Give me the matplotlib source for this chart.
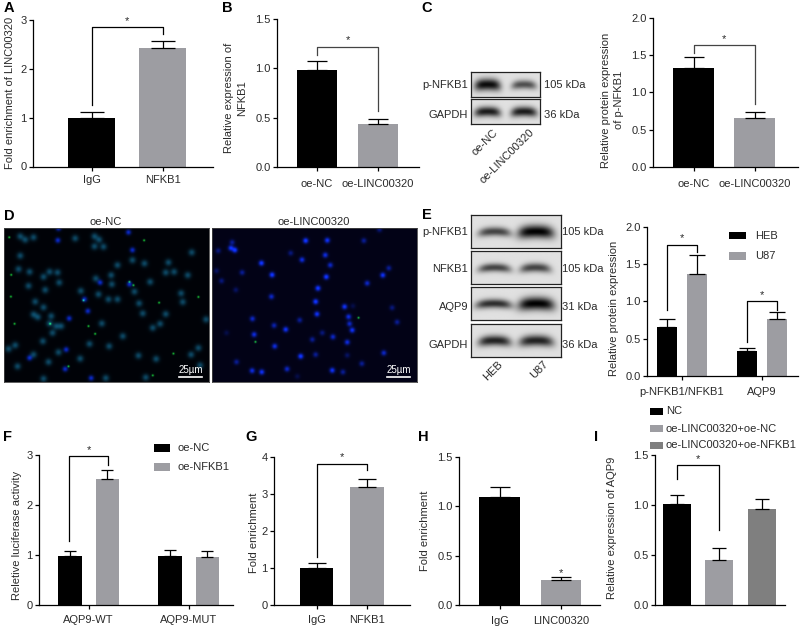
#Imports
import numpy as np
import matplotlib
matplotlib.use('Agg')
import matplotlib.pyplot as plt
from matplotlib.patches import Rectangle

plt.rcParams['font.family'] = ['Liberation Sans', 'DejaVu Sans']
plt.rcParams['font.size'] = 8
plt.rcParams['text.color'] = '#2a2a2a'
plt.rcParams['axes.labelcolor'] = '#2a2a2a'
plt.rcParams['xtick.labelcolor'] = '#2a2a2a'
plt.rcParams['ytick.labelcolor'] = '#2a2a2a'

#Data

a_names = ['IgG', 'NFKB1']
a_values = [1.0, 2.43]
a_errors = [0.11, 0.14]

b_names = ['oe-NC', 'oe-LINC00320']
b_values = [0.98, 0.43]
b_errors = [0.10, 0.06]

c_names = ['oe-NC', 'oe-LINC00320']
c_values = [1.33, 0.66]
c_errors = [0.15, 0.08]

e_names = ['p-NFKB1/NFKB1', 'AQP9']
e_heb = [0.66, 0.33]
e_heb_err = [0.11, 0.05]
e_u87 = [1.36, 0.77]
e_u87_err = [0.26, 0.09]

f_names = ['AQP9-WT', 'AQP9-MUT']
f_nc = [0.98, 0.98]
f_nc_err = [0.10, 0.11]
f_nfkb1 = [2.53, 0.95]
f_nfkb1_err = [0.18, 0.12]

g_names = ['IgG', 'NFKB1']
g_values = [1.0, 3.2]
g_errors = [0.13, 0.22]

h_names = ['IgG', 'LINC00320']
h_values = [1.1, 0.25]
h_errors = [0.10, 0.03]

i_names = ['NC', 'oe-LINC00320+oe-NC', 'oe-LINC00320+oe-NFKB1']
i_values = [1.01, 0.45, 0.96]
i_errors = [0.09, 0.12, 0.10]

# fluorescence spots in panel D (zoomed picture coordinates)
d_left_teal = [(75,122),(100,115),(283,112),(297,122),(310,143),(283,142),(55,210),(88,218),(148,218),
               (172,220),(130,233),(177,250),(85,260),(135,272),(242,275),(287,238),(333,228),(352,198),
               (433,193),(397,183),(505,190),(497,220),(522,218),(563,228),(335,255),(403,277),(450,248),
               (295,285),(325,300),(352,300),(105,307),(130,324),(100,345),(113,353),(153,350),(417,312),
               (428,342),(497,344),(543,282),(548,308),(618,360),(148,372),(168,380),(183,380),(157,400),
               (128,425),(45,437),(25,448),(175,458),(268,433),(327,440),(368,410),(100,465),(240,477),
               (415,468),(468,478),(480,373),(458,385),(305,372),(595,445),(573,465),(52,500),(145,487),
               (130,537),(437,533),(600,497),(317,535),(60,112),(225,118),(575,160),(60,170)]
d_left_blue = [(173,124),(385,100),(397,153),(300,250),(388,255),(253,300),(207,357),(263,335),(198,450),
               (88,475),(195,508),(273,535),(175,88)]
d_left_green = [(27,115),(432,124),(33,227),(32,292),(43,373),(477,310),(595,293),(150,373),(388,248),
                (265,380),(285,403),(520,462),(458,527),(400,258),(205,500),(250,303)]
d_right_blue = [(693,147,.9),(705,153,1),(697,130,.5),(655,155,.4),(918,125,1),(983,124,.9),(1093,125,.5),
                (1140,92,.4),(785,192,1),(907,182,.8),(977,168,.8),(992,198,.7),(873,162,.4),(727,220,.5),
                (650,215,.3),(817,227,1),(980,233,1),(1150,228,.9),(1168,207,.5),(665,245,.4),(955,267,1),
                (1103,252,.7),(708,272,.3),(815,292,.7),(948,307,1),(1035,322,.9),(1060,320,.2),(1178,325,.4),
                (952,344,.9),(1047,352,.8),(758,358,.7),(900,362,.5),(1050,373,.7),(1058,392,.9),(823,378,.6),
                (858,390,.9),(1193,368,.5),(763,405,.8),(1000,412,.7),(938,420,.5),(1043,428,.8),(825,440,.8),
                (903,470,1),(948,465,.5),(1153,460,.7),(1043,467,.3),(710,487,.5),(757,513,.8),(786,517,.9),
                (862,508,.7),(998,512,.9),(1030,517,.5),(1087,492,.5),(893,530,.2),(968,400,.4),(680,400,.2)]

# blot bands: centre, half width, darkness, half height
blot_c = {'p-NFKB1': [(.24,.19,.95,.24),(.77,.18,.65,.18)],
          'GAPDH': [(.24,.19,.88,.2),(.77,.19,.88,.2)]}
blot_e = {'p-NFKB1': [(.26,.18,.7,.14),(.715,.2,1.0,.2)],
          'NFKB1': [(.26,.18,.7,.13),(.71,.17,.7,.14)],
          'AQP9': [(.25,.2,.8,.14),(.72,.2,1.0,.2)],
          'GAPDH': [(.26,.18,.85,.16),(.72,.19,.85,.17)]}

BLACK = '#000000'
GREY = '#9d9da2'
DARK = '#7f7f7f'
W, H = 800, 628

fig = plt.figure(figsize=(W / 100, H / 100), dpi=100)


# everything is placed in picture pixels
def new_axes(left, right, bottom, top):
    return fig.add_axes([left / W, 1 - bottom / H, (right - left) / W, (bottom - top) / H])


def label(x, y, s, **kw):
    kw.setdefault('ha', 'center')
    kw.setdefault('va', 'center')
    fig.text(x / W, 1 - y / H, s, **kw)


def bar_panel(rect, x0, step, ylim, yticks, ylab_x, ylab_y, ylabel, fmt='%.1f', xpad=4):
    ax = new_axes(*rect)
    ax.set_xlim((rect[0] - x0) / step, (rect[1] - x0) / step)
    ax.set_ylim(*ylim)
    ax.spines['top'].set_visible(False)
    ax.spines['right'].set_visible(False)
    ax.spines['left'].set_linewidth(0.9)
    ax.spines['bottom'].set_linewidth(0.9)
    ax.set_yticks(yticks)
    ax.set_yticklabels([fmt % t for t in yticks])
    ax.tick_params(length=3.2, width=0.9, pad=1.5)
    ax.tick_params(axis='x', pad=xpad)
    ax.patch.set_alpha(0)
    label(ylab_x, ylab_y, ylabel, rotation=90, linespacing=1.4)
    return ax


def bars(ax, xs, values, errors, width, colors, cap):
    ax.bar(xs, values, width=width, color=colors, linewidth=0)
    for x, v, e in zip(xs, values, errors):
        ax.errorbar([x], [v], yerr=[[0], [e]], color='black', elinewidth=0.9,
                    capsize=cap, capthick=0.9, clip_on=False)


def bracket(ax, x1, x2, top, b1, b2, color='black'):
    ax.plot([x1, x1, x2, x2], [b1, top, top, b2], color=color, linewidth=0.9, clip_on=False)
    ax.annotate('*', ((x1 + x2) / 2, top), xytext=(0, 1), textcoords='offset points',
                ha='center', va='bottom', fontsize=8, annotation_clip=False)


def blot(rect, bands):
    ax = new_axes(*rect)
    xx, yy = np.meshgrid(np.linspace(0, 1, 180), np.linspace(0, 1, 60))
    img = np.full(xx.shape, 0.88)
    for cx, hw, dark, hh in bands:
        # bands bow slightly, like on a real membrane
        cy = 0.5 + 0.06 * ((xx - cx) / hw) ** 2
        blob = np.exp(-((xx - cx) / hw) ** 4) * np.exp(-((yy - cy) / hh) ** 2)
        img = img - dark * 0.88 * blob
    ax.imshow(np.clip(img, 0, 1), cmap='gray', vmin=0, vmax=1, aspect='auto',
              extent=[0, 1, 1, 0], interpolation='bilinear')
    ax.set_xticks([])
    ax.set_yticks([])
    for s in ax.spines.values():
        s.set_linewidth(0.9)
        s.set_color('#222222')


def fluor(rect, x_range, y_range, teal, blue, green, bg):
    ax = new_axes(*rect)
    nx, ny = 410, 308
    xx, yy = np.meshgrid(np.linspace(x_range[0], x_range[1], nx), np.linspace(y_range[0], y_range[1], ny))
    img = np.zeros((ny, nx, 3))
    img[:, :] = bg
    for x, y in teal:
        g = np.exp(-((xx - x) ** 2 + (yy - y) ** 2) / (2 * 7.0 ** 2))
        img[:, :, 0] += 0.05 * g
        img[:, :, 1] += 0.27 * g
        img[:, :, 2] += 0.36 * g
    for x, y, b in blue:
        g = np.exp(-((xx - x) ** 2 + (yy - y) ** 2) / (2 * 5.5 ** 2))
        img[:, :, 0] += 0.05 * b * g
        img[:, :, 1] += 0.2 * b * g
        img[:, :, 2] += 1.0 * b * g
    for x, y in green:
        g = np.exp(-((xx - x) ** 2 + (yy - y) ** 2) / (2 * 2.2 ** 2))
        img[:, :, 0] += 0.1 * g
        img[:, :, 1] += 0.8 * g
        img[:, :, 2] += 0.2 * g
    ax.imshow(np.clip(img, 0, 1), aspect='auto', extent=[x_range[0], x_range[1], y_range[1], y_range[0]])
    ax.set_xticks([])
    ax.set_yticks([])
    for s in ax.spines.values():
        s.set_linewidth(0.6)
        s.set_color('#444444')
    # scale bar
    right = x_range[1] - 21
    ax.plot([right - 68, right], [y_range[1] - 15, y_range[1] - 15], color='white', linewidth=1.2)
    ax.text(right - 34, y_range[1] - 20, '25µm', color='white', ha='center', va='bottom', fontsize=7)
    ax.set_xlim(*x_range)
    ax.set_ylim(y_range[1], y_range[0])


# A
ax = bar_panel((33, 213, 166.5, 20), 91.5, 71, (0, 3), [0, 1, 2, 3], 10, 93,
               'Fold enrichment of LINC00320', fmt='%d', xpad=3)
bars(ax, [0, 1], a_values, a_errors, 0.66, [BLACK, GREY], 8.6)
ax.set_xticks([0, 1])
ax.set_xticklabels(a_names)
bracket(ax, 0, 1, 2.85, 1.25, 2.72)

# B
ax = bar_panel((277, 419, 166.7, 19.3), 317, 61, (0, 1.5), [0, 0.5, 1.0, 1.5], 236, 98,
               'Relative expression of\nNFKB1', xpad=5.5)
bars(ax, [0, 1], b_values, b_errors, 0.66, [BLACK, GREY], 7.2)
ax.set_xticks([0, 1])
ax.set_xticklabels(b_names)
bracket(ax, 0, 1, 1.22, 1.135, 0.57, color='#444444')

# C blot
blot((471, 540, 97, 72), blot_c['p-NFKB1'])
blot((471, 540, 124, 99), blot_c['GAPDH'])
label(468, 85, 'p-NFKB1', ha='right')
label(468, 115, 'GAPDH', ha='right')
label(544, 85, '105 kDa', ha='left')
label(544, 115, '36 kDa', ha='left')
label(493, 127, 'oe-NC', rotation=45, ha='right', va='top', rotation_mode='anchor')
label(529, 127, 'oe-LINC00320', rotation=45, ha='right', va='top', rotation_mode='anchor')

# C chart
ax = bar_panel((653, 798, 167, 17.7), 693.5, 61, (0, 2), [0, 0.5, 1.0, 1.5, 2.0], 612.5, 100,
               'Relative protein expression\nof p-NFKB1', xpad=5.5)
bars(ax, [0, 1], c_values, c_errors, 0.66, [BLACK, GREY], 7.2)
ax.set_xticks([0, 1])
ax.set_xticklabels(c_names)
bracket(ax, 0, 1, 1.63, 1.53, 0.85, color='#444444')

# D
fluor((4, 209, 382, 228), (12, 626), (85, 546), d_left_teal,
      [(x, y, 0.75) for x, y in d_left_blue], d_left_green, (0, 0.01, 0.03))
fluor((212, 417, 382, 228), (637, 1252), (85, 546), [], d_right_blue, [(1077, 355), (767, 427)], (0.01, 0.01, 0.09))
label(106, 222, 'oe-NC')
label(314, 222, 'oe-LINC00320')

# E blot
blot((470.7, 560.7, 247.7, 215), blot_e['p-NFKB1'])
blot((470.7, 560.7, 284, 251), blot_e['NFKB1'])
blot((470.7, 560.7, 320, 287.3), blot_e['AQP9'])
blot((470.7, 560.7, 356.7, 324), blot_e['GAPDH'])
for name, kda, y in [('p-NFKB1', '105 kDa', 231.7), ('NFKB1', '105 kDa', 269), ('AQP9', '31 kDa', 307), ('GAPDH', '36 kDa', 345)]:
    label(468, y, name, ha='right')
    label(562, y, kda, ha='left')
label(498, 359, 'HEB', rotation=45, ha='right', va='top', rotation_mode='anchor')
label(543, 359, 'U87', rotation=45, ha='right', va='top', rotation_mode='anchor')

# E chart
ax = bar_panel((647.3, 798, 376, 226.7), 682, 80, (0, 2), [0, 0.5, 1.0, 1.5, 2.0], 614, 308,
               'Relative protein expression', xpad=4.5)
xs = np.array([0, 1])
bars(ax, xs - 0.1875, e_heb, e_heb_err, 0.25, BLACK, 5.5)
bars(ax, xs + 0.1875, e_u87, e_u87_err, 0.25, GREY, 5.5)
ax.set_xticks([0, 1])
ax.set_xticklabels(e_names)
bracket(ax, -0.1875, 0.1875, 1.76, 0.88, 1.66)
bracket(ax, 0.8125, 1.1875, 1.0, 0.46, 0.88)
fig.add_artist(Rectangle((729 / W, 1 - 239 / H), 17 / W, 7.5 / H, color=BLACK, linewidth=0))
fig.add_artist(Rectangle((729 / W, 1 - 260 / H), 17 / W, 8 / H, color=GREY, linewidth=0))
label(755, 236, 'HEB', ha='left')
label(755, 256, 'U87', ha='left')

# F
ax = bar_panel((39, 233, 604.7, 455.3), 88.7, 100, (0, 3), [0, 1, 2, 3], 17, 535,
               'Reletive luciferase activity', fmt='%d', xpad=4.5)
bars(ax, xs - 0.187, f_nc, f_nc_err, 0.233, BLACK, 4.6)
bars(ax, xs + 0.187, f_nfkb1, f_nfkb1_err, 0.233, GREY, 4.6)
ax.set_xticks([0, 1])
ax.set_xticklabels(f_names)
bracket(ax, -0.197, 0.193, 2.98, 1.27, 2.8)
fig.add_artist(Rectangle((153.7 / W, 1 - 452 / H), 16.3 / W, 8 / H, color=BLACK, linewidth=0))
fig.add_artist(Rectangle((153.7 / W, 1 - 470.7 / H), 16.3 / W, 8 / H, color=GREY, linewidth=0))
label(178, 448, 'oe-NC', ha='left')
label(178, 466.5, 'oe-NFKB1', ha='left')

# G
ax = bar_panel((274, 410, 604.7, 457.3), 316.5, 50.5, (0, 4), [0, 1, 2, 3, 4], 254, 533,
               'Fold enrichment', fmt='%d', xpad=4.5)
bars(ax, [0, 1], g_values, g_errors, 0.66, [BLACK, GREY], 6.2)
ax.set_xticks([0, 1])
ax.set_xticklabels(g_names)
bracket(ax, 0, 1, 3.83, 1.30, 3.65)

# H
ax = bar_panel((459.3, 600, 604.7, 457.3), 499.5, 61.5, (0, 1.5), [0, 0.5, 1.0, 1.5], 425, 531,
               'Fold enrichment', xpad=5)
bars(ax, [0, 1], h_values, h_errors, 0.66, [BLACK, GREY], 7.2)
ax.set_xticks([0, 1])
ax.set_xticklabels(h_names)
ax.annotate('*', (1, h_values[1] + h_errors[1]), xytext=(0, -1), textcoords='offset points',
            ha='center', va='bottom', fontsize=8)

# I
ax = bar_panel((655, 785, 604.7, 455.3), 676.7, 42.7, (0, 1.5), [0, 0.5, 1.0, 1.5], 612, 528,
               'Relative expression of AQP9')
bars(ax, [0, 1, 2], i_values, i_errors, 0.656, [BLACK, GREY, DARK], 5.0)
ax.set_xticks([])
bracket(ax, 0, 1, 1.40, 1.26, 0.75)
for name, color, y in zip(i_names, [BLACK, GREY, DARK], [411.5, 428.5, 445.5]):
    fig.add_artist(Rectangle((650 / W, 1 - (y + 3.5) / H), 12.7 / W, 7 / H, color=color, linewidth=0))
    label(665.7, y, name, ha='left')

# Panel letters
for letter, x, y in [('A', 9, 8), ('B', 227, 8), ('C', 427, 8), ('D', 9, 216), ('E', 427, 215),
                     ('F', 8, 437), ('G', 251, 437), ('H', 423, 437), ('I', 596, 437)]:
    label(x, y, letter, fontsize=10.5, fontweight='bold', color='black')

fig.savefig('out.png', dpi=100)
